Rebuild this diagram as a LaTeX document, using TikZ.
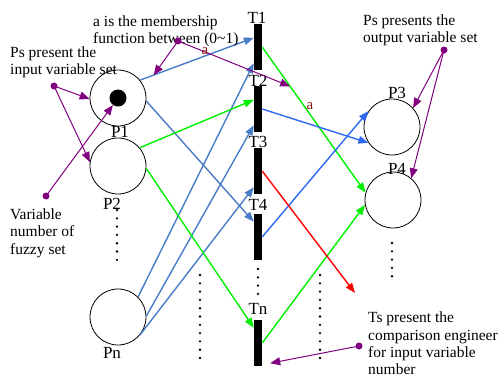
\documentclass[tikz,border=0pt]{standalone}
\usepackage{fontspec}
\setmainfont{LiberationSerif}[Extension=.ttf,UprightFont=*-Regular]
\usetikzlibrary{arrows.meta,calc}
\definecolor{sblue}{RGB}{72,124,200}
\definecolor{bblue}{RGB}{45,105,245}
\definecolor{pgreen}{RGB}{0,240,0}
\definecolor{pred}{RGB}{255,0,0}
\definecolor{ppurple}{RGB}{128,0,128}
\definecolor{dred}{RGB}{150,20,20}
\begin{document}
\begin{tikzpicture}[x=1pt,y=-1pt,
 place/.style={circle,draw,line width=0.8pt,minimum size=56pt,inner sep=0pt},
 trans/.style={rectangle,fill=black,minimum width=8pt,minimum height=46pt,inner sep=0pt},
 lbl/.style={font=\fontsize{17}{19}\selectfont,inner sep=0pt},
 note/.style={font=\fontsize{15.5}{17.3}\selectfont,align=left,anchor=north west,inner sep=0pt},
 arcline/.style={line width=1.4pt,-{Triangle[length=10pt,width=7.5pt]}},
 ann/.style={ppurple,line width=1pt,-{Triangle[length=10pt,width=8pt]}},
 adot/.style={circle,fill=ppurple,minimum size=7pt,inner sep=0pt},
 dotline/.style={line width=2.6pt,line cap=round,dash pattern=on 0pt off 8.3pt},
 alabel/.style={text=dred,font=\fontsize{15}{17}\selectfont,inner sep=0pt},
]
\useasboundingbox (0,0) rectangle (501,378);

% places
\node[place] (P1) at (118,98) {};
\node[place] (P2) at (118,166) {};
\node[place] (Pn) at (118,317) {};
\node[place] (P3) at (392,127) {};
\node[place] (P4) at (393,200) {};
\node[circle,fill=black,minimum size=17pt,inner sep=0pt] (tok) at (P1) {};

% transitions
\node[trans] (T1) at (258,47) {};
\node[trans] (T2) at (258,109) {};
\node[trans] (T3) at (258,171) {};
\node[trans] (T4) at (258,237) {};
\node[trans] (Tn) at (258,343) {};

% labels
\node[lbl] (lP1) at (120,132) {P1};
\node[lbl] (lP2) at (112,204) {P2};
\node[lbl] (lPn) at (112,353) {Pn};
\node[lbl] (lP3) at (397,93) {P3};
\node[lbl] (lP4) at (397,169) {P4};
\node[lbl] (lT1) at (257,17.5) {T1};
\node[lbl] (lT2) at (258,81) {T2};
\node[lbl] (lT3) at (258,142) {T3};
\node[lbl] (lT4) at (258,205) {T4};
\node[lbl] (lTn) at (258,309) {Tn};

% input arcs
\coordinate (T1a) at ($(T1.north west)+(0,14)$);
\draw[arcline,sblue] (P1.39) -- (T1a);
\draw[arcline,sblue] (P1.-6) -- ($(T4.north west)+(0,8)$);
\draw[arcline,sblue] (Pn.45) -- ($(T1.south west)+(0,-7)$);
\draw[arcline,sblue] (Pn.2) -- ($(T2.south west)+(0,-7)$);
\draw[arcline,sblue] (Pn.-40) -- ($(T3.south west)+(0,-7)$);
\draw[arcline,pgreen] (P2.40) -- ($(T2.north west)+(0,14)$);
\draw[arcline,pgreen] (P2.-5) -- ($(Tn.north west)+(0,8)$);

% output arcs
\draw[arcline,pgreen] (T1.east) -- (P4.165);
\draw[arcline,pgreen] (Tn.east) -- (P4.190);
\draw[arcline,bblue] (T2.east) -- (P3.214);
\draw[arcline,bblue] (T4.east) -- (P3.146);
\coordinate (redend) at (355,293);
\draw[arcline,pred] (T3.east) -- (redend);

% dotted continuation marks
\draw[dotline] (117,210) -- (117,264);
\draw[dotline] (258,269) -- (258,296);
\draw[dotline] (392,243) -- (392,277);
\draw[dotline] (200,275) -- (200,359);
\draw[dotline] (320,275) -- (320,359);

% annotations
\node[note] (nA) at (93,15.5) {a is the membership\\function between (0\textasciitilde1)};
\node[note] (nB) at (10,46.7) {Ps present the\\input variable set};
\node[note] (nC) at (10,208.5) {Variable\\number of\\fuzzy set};
\node[note] (nD) at (363,14.7) {Ps presents the\\output variable set};
\node[note] (nE) at (368,312) {Ts present the\\comparison engineer\\for input variable\\number};

\node[adot] (dA) at (178,41) {};
\node[adot] (dB) at (54,86) {};
\node[adot] (dC) at (46,196) {};
\node[adot] (dD) at (444,50) {};
\node[adot] (dE) at (359,346) {};

\draw[ann] (dA.center) -- ($(P1.39)!0.12!(T1a)$);
\draw[ann] (dA.center) -- ($(T1.east)!0.27!(P4.165)$);
\draw[ann] (dB.center) -- (P1.182);
\draw[ann] (dB.center) -- (P2.172);
\draw[ann] (dC.center) -- (tok.234);
\draw[ann] (dD.center) -- (P3.42);
\draw[ann] (dD.center) -- (P4.50);
\draw[ann] (dE.center) -- ($(Tn.south east)+(8,-3)$);

\node[alabel] (a1) at (205,51) {a};
\node[alabel] (a2) at (310,106) {a};
\end{tikzpicture}
\end{document}
